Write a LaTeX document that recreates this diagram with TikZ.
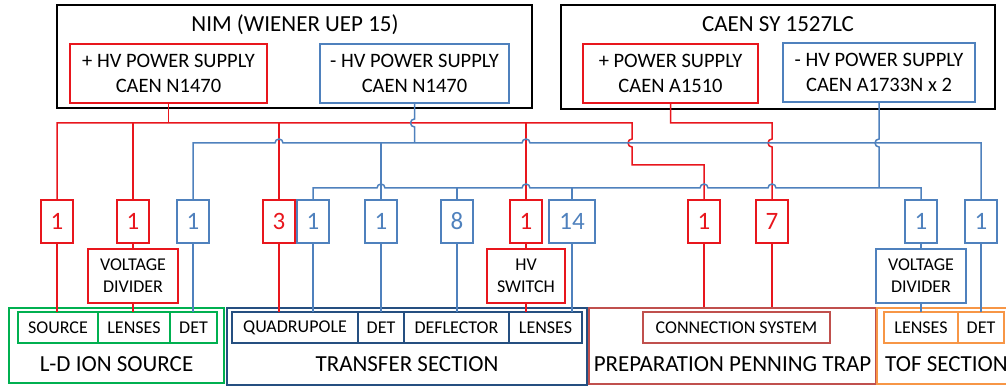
\documentclass[tikz,border=0pt]{standalone}
\usepackage{fontspec}
\setmainfont{Carlito}
\usepackage{tikz}
\usetikzlibrary{positioning}
\definecolor{HVRed}{HTML}{E8161D}
\definecolor{HVBlue}{HTML}{4F81BD}
\definecolor{LDGreen}{HTML}{00B050}
\definecolor{TransferBlue}{HTML}{254F80}
\definecolor{TrapRed}{HTML}{C0504D}
\definecolor{TofOrange}{HTML}{F79646}
\tikzset{
  crate/.style={
    draw=black,
    line width=2.2pt,
    inner sep=0pt
  },
  cratetitle/.style={
    font=\fontsize{23}{27}\selectfont,
    inner sep=0pt
  },
  supply/.style={
    line width=1.5pt,
    minimum height=59pt,
    align=center,
    inner sep=0pt,
    font=\fontsize{20.5}{25}\selectfont
  },
  chanbox/.style={
    line width=1.5pt,
    minimum width=32pt,
    minimum height=43pt,
    inner sep=0pt,
    font=\fontsize{25}{30}\selectfont
  },
  smallbox/.style={
    line width=1.5pt,
    minimum height=54pt,
    align=center,
    inner sep=0pt,
    font=\fontsize{18}{22}\selectfont
  },
  cell/.style={
    line width=1.5pt,
    minimum height=31pt,
    inner sep=0pt,
    outer sep=0pt,
    font=\fontsize{18}{22}\selectfont
  },
  secframe/.style={
    line width=2.5pt,
    inner sep=0pt
  },
  sectitle/.style={
    font=\fontsize{23}{27}\selectfont,
    inner sep=0pt
  },
  redwire/.style={
    draw=HVRed,
    line width=1.5pt
  },
  bluewire/.style={
    draw=HVBlue,
    line width=1.5pt
  }
}
\begin{document}
\begin{tikzpicture}[x=1pt, y=-1pt, node distance=0pt]
\useasboundingbox (0,0) rectangle (1006,387);
% crates and supplies
\node[crate, minimum width=475pt, minimum height=103pt] (nim) at (294.5,56.5) {};
\node[cratetitle, anchor=base] (nimtitle) at (295,32) {NIM (WIENER UEP 15)};
\node[crate, minimum width=434pt, minimum height=104pt] (sy) at (778,57) {};
\node[cratetitle, anchor=base] (sytitle) at (778,32) {CAEN SY 1527LC};
\node[supply, draw=HVRed, minimum width=197pt] (hvpos) at (168.5,73.5) {+ HV POWER SUPPLY\\CAEN N1470};
\node[supply, draw=HVBlue, minimum width=189pt] (hvneg) at (414.5,73.5) {- HV POWER SUPPLY\\CAEN N1470};
\node[supply, draw=HVRed, minimum width=175pt] (apos) at (670.5,73.5) {+ POWER SUPPLY\\CAEN A1510};
\node[supply, draw=HVBlue, minimum width=192pt] (aneg) at (879,72.5) {- HV POWER SUPPLY\\CAEN A1733N x 2};
% bus levels
\coordinate (busA) at (0,123);
\coordinate (busB) at (0,143);
\coordinate (busC) at (0,188);
\coordinate (redjog) at (632,165);
% channel counts
\node[chanbox, draw=HVRed, text=HVRed] (nsrc) at (57,221.5) {1};
\node[chanbox, draw=HVRed, text=HVRed] (nldlens) at (133,221.5) {1};
\node[chanbox, draw=HVBlue, text=HVBlue] (nlddet) at (193,221.5) {1};
\node[chanbox, draw=HVRed, text=HVRed] (nquadpos) at (279,221.5) {3};
\node[chanbox, draw=HVBlue, text=HVBlue] (nquadneg) at (313,221.5) {1};
\node[chanbox, draw=HVBlue, text=HVBlue] (ntrdet) at (381,221.5) {1};
\node[chanbox, draw=HVBlue, text=HVBlue] (ndefl) at (457,221.5) {8};
\node[chanbox, draw=HVRed, text=HVRed] (nswitch) at (526,221.5) {1};
\node[chanbox, draw=HVBlue, text=HVBlue, minimum width=46pt] (ntrlens) at (572,221.5) {14};
\node[chanbox, draw=HVRed, text=HVRed] (npptone) at (704,221.5) {1};
\node[chanbox, draw=HVRed, text=HVRed] (npptseven) at (772,221.5) {7};
\node[chanbox, draw=HVBlue, text=HVBlue] (noflens) at (921,221.5) {1};
\node[chanbox, draw=HVBlue, text=HVBlue] (nofdet) at (981,221.5) {1};
% dividers and switch
\node[smallbox, draw=HVRed, minimum width=90pt] (ldvdiv) at (133,276) {VOLTAGE\\DIVIDER};
\node[smallbox, draw=HVRed, minimum width=78pt] (hvswitch) at (526,276) {HV\\SWITCH};
\node[smallbox, draw=HVBlue, minimum width=90pt] (tofvdiv) at (921,276) {VOLTAGE\\DIVIDER};
% sections
\node[secframe, draw=LDGreen, minimum width=215pt, minimum height=75pt] (ldis) at (116.5,345.5) {};
\node[sectitle] (ldistitle) at (116.5,364) {L-D ION SOURCE};
\node[cell, draw=LDGreen, minimum width=80pt] (ldsource) at (58,327.5) {SOURCE};
\node[cell, draw=LDGreen, minimum width=72pt, right=of ldsource] (ldlenses) {LENSES};
\node[cell, draw=LDGreen, minimum width=47pt, right=of ldlenses] (lddet) {DET};
\node[secframe, draw=TransferBlue, minimum width=360pt, minimum height=77pt] (transfer) at (407,346.5) {};
\node[sectitle] (transfertitle) at (407,364.5) {TRANSFER SECTION};
\node[cell, draw=TransferBlue, minimum width=126pt] (trquad) at (295,327.5) {QUADRUPOLE};
\node[cell, draw=TransferBlue, minimum width=46pt, right=of trquad] (trdet) {DET};
\node[cell, draw=TransferBlue, minimum width=105pt, right=of trdet] (trdefl) {DEFLECTOR};
\node[cell, draw=TransferBlue, minimum width=73pt, right=of trdefl] (trlens) {LENSES};
\node[secframe, draw=TrapRed, minimum width=287pt, minimum height=76pt] (ppt) at (732.5,346) {};
\node[sectitle] (ppttitle) at (732.5,364.5) {PREPARATION PENNING TRAP};
\node[cell, draw=TrapRed, minimum width=187pt] (conn) at (736.5,327.5) {CONNECTION SYSTEM};
\node[secframe, draw=TofOrange, minimum width=139pt, minimum height=76pt] (tof) at (946.5,346) {};
\node[sectitle] (toftitle) at (946.5,364.5) {TOF SECTION};
\node[cell, draw=TofOrange, minimum width=74pt] (toflens) at (921,327.5) {LENSES};
\node[cell, draw=TofOrange, minimum width=46pt, right=of toflens] (tofdet) {DET};
% positive supplies
\draw[redwire] (hvpos.south) -- (hvpos.south |- busA);
\draw[redwire] (nsrc.north) -- (nsrc.north |- busA) -- (redjog |- busA) -- (redjog |- 0,139)
  arc[start angle=90, end angle=270, radius=4pt] -- (redjog) -- (npptone.north |- redjog) -- (npptone.north);
\draw[redwire] (nldlens.north |- busA) -- (nldlens.north);
\draw[redwire] (nquadpos.north |- busA) -- (nquadpos.north);
\draw[redwire] (nswitch.north |- busA) -- (nswitch.north);
\draw[redwire] (apos.south) -- (apos.south |- busA) -- (npptseven.north |- busA) -- (npptseven.north |- 0,139)
  arc[start angle=90, end angle=270, radius=4pt] -- (npptseven.north);
% negative supplies
\draw[bluewire] (hvneg.south) -- (hvneg.south |- 0,119)
  arc[start angle=90, end angle=270, radius=4pt] -- (hvneg.south |- busB);
\draw[bluewire] (nlddet.north) -- (nlddet.north |- busB) -- (275,143)
  arc[start angle=180, end angle=0, radius=4pt] -- (522,143)
  arc[start angle=180, end angle=0, radius=4pt] -- (nofdet.north |- busB) -- (nofdet.north);
\draw[bluewire] (ntrdet.north |- busB) -- (ntrdet.north);
\draw[bluewire] (aneg.south) -- (aneg.south |- 0,139)
  arc[start angle=90, end angle=270, radius=4pt] -- (aneg.south |- busC);
\draw[bluewire] (nquadneg.north) -- (nquadneg.north |- busC) -- (377,188)
  arc[start angle=180, end angle=0, radius=4pt] -- (522,188)
  arc[start angle=180, end angle=0, radius=4pt] -- (700,188)
  arc[start angle=180, end angle=0, radius=4pt] -- (768,188)
  arc[start angle=180, end angle=0, radius=4pt] -- (noflens.north |- busC) -- (noflens.north);
\draw[bluewire] (ndefl.north |- busC) -- (ndefl.north);
\draw[bluewire] (ntrlens.north |- busC) -- (ntrlens.north);
% down to the sections
\draw[redwire] (nsrc.south) -- (nsrc.south |- ldsource.north);
\draw[redwire] (nldlens.south) -- (ldvdiv.north);
\draw[redwire] (ldvdiv.south) -- (ldvdiv.south |- ldlenses.north);
\draw[bluewire] (nlddet.south) -- (nlddet.south |- lddet.north);
\draw[redwire] (nquadpos.south) -- (nquadpos.south |- trquad.north);
\draw[bluewire] (nquadneg.south) -- (nquadneg.south |- trquad.north);
\draw[bluewire] (ntrdet.south) -- (ntrdet.south |- trdet.north);
\draw[bluewire] (ndefl.south) -- (ndefl.south |- trdefl.north);
\draw[redwire] (nswitch.south) -- (hvswitch.north);
\draw[redwire] (hvswitch.south) -- (hvswitch.south |- trlens.north);
\draw[bluewire] (ntrlens.south) -- (ntrlens.south |- trlens.north);
\draw[redwire] (npptone.south) -- (npptone.south |- ppt.north);
\draw[redwire] (npptseven.south) -- (npptseven.south |- ppt.north);
\draw[bluewire] (noflens.south) -- (tofvdiv.north);
\draw[bluewire] (tofvdiv.south) -- (tofvdiv.south |- toflens.north);
\draw[bluewire] (nofdet.south) -- (nofdet.south |- tofdet.north);
\end{tikzpicture}
\end{document}
